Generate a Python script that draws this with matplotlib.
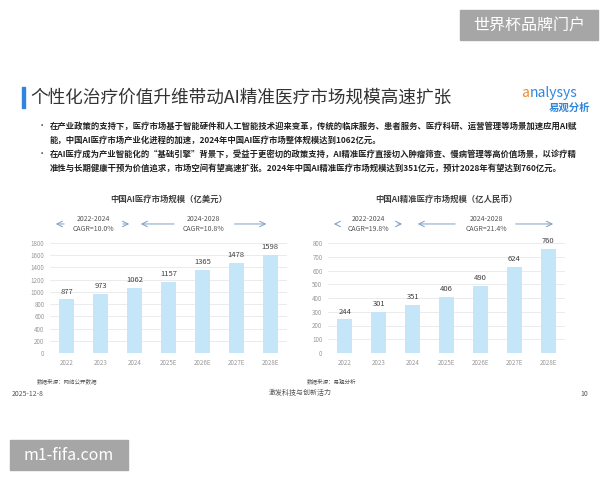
import matplotlib
matplotlib.use('Agg')
from matplotlib import pyplot as plt
from matplotlib.patches import Rectangle
import matplotlib.transforms as mtransforms

plt.rcParams['font.family'] = ['Noto Sans CJK SC', 'DejaVu Sans']

years = ['2022', '2023', '2024', '2025E', '2026E', '2027E', '2028E']
usd_values = [877, 973, 1062, 1157, 1365, 1478, 1598]
rmb_values = [244, 301, 351, 406, 490, 624, 760]
usd_cagr = ['2022-2024\nCAGR=10.0%', '2024-2028\nCAGR=10.8%']
rmb_cagr = ['2022-2024\nCAGR=19.8%', '2024-2028\nCAGR=21.4%']

title = '个性化治疗价值升维带动AI精准医疗市场规模高速扩张'
bullets = [
    ['在产业政策的支持下，医疗市场基于智能硬件和人工智能技术迎来变革，传统的临床服务、患者服务、医疗科研、运营管理等场景加速应用AI赋',
     '能，中国AI医疗市场产业化进程的加速，2024年中国AI医疗市场整体规模达到1062亿元。'],
    ['在AI医疗成为产业智能化的“基础引擎”背景下，受益于更密切的政策支持，AI精准医疗直接切入肿瘤筛查、慢病管理等高价值场景，以诊疗精',
     '准性与长期健康干预为价值追求，市场空间有望高速扩张。2024年中国AI精准医疗市场规模达到351亿元，预计2028年有望达到760亿元。'],
]

BAR = '#C4E6F8'
DARK = '#404040'
ARROW = '#7F9FC0'

fig = plt.figure(figsize=(6, 4.8), dpi=100)
fig.patch.set_facecolor('white')

def fx(px):
    return px / 600

def fy(py):
    return 1 - py / 480

# header / title
fig.patches.append(Rectangle((fx(22), fy(108)), fx(3), 21 / 480, transform=fig.transFigure,
                             color='#2E86DE', zorder=3))
fig.text(fx(30), fy(98), title, fontsize=12.7, color='#333333', va='center', ha='left')
fig.text(fx(521), fy(93), 'a', fontsize=10, color='#F08C28', style='italic', va='center', ha='left')
fig.text(fx(530), fy(93), 'nalysys', fontsize=10, color='#2E86DE', style='italic', va='center', ha='left')
fig.text(fx(590), fy(108), '易观分析', fontsize=7.5, color='#2E86DE', weight='bold', va='center', ha='right')

line_y = [[126, 140], [154, 168]]
for lines, ys in zip(bullets, line_y):
    fig.text(fx(38), fy(ys[0]), '•', fontsize=6, color=DARK, va='center')
    for s, y in zip(lines, ys):
        fig.text(fx(50), fy(y), s, fontsize=6.0, color='#222222', va='center', weight='bold')

def draw(left_px, values, ymax, step, name, cagr, arrows, source, source_x):
    ax = fig.add_axes([fx(left_px), fy(353), 237 / 600, 110 / 480])
    x = list(range(len(years)))
    ax.bar(x, values, width=0.44, color=BAR, zorder=2)
    for i, v in zip(x, values):
        ax.text(i, v + ymax * 0.035, str(v), ha='center', va='bottom', fontsize=5.5, color=DARK)
    ax.set_xlim(-0.5, len(years) - 0.5)
    ax.set_ylim(0, ymax)
    ax.set_yticks(range(0, ymax + 1, step))
    ax.set_xticks(x)
    ax.set_xticklabels(years)
    ax.tick_params(length=0, labelsize=4.5, labelcolor='#999999', pad=4)
    ax.grid(axis='y', color='#E8E8E8', linewidth=0.6, zorder=0)
    for sp in ax.spines.values():
        sp.set_visible(False)

    trans = mtransforms.blended_transform_factory(ax.transData, ax.transAxes)
    ax.text(3, 1.40, name, transform=trans, ha='center', va='center', fontsize=6,
            color=DARK, weight='bold')
    for (a0, a1, tc, b0, b1), txt in zip(arrows, cagr):
        ax.text(tc, 1.17, txt, transform=trans, ha='center', va='center', fontsize=5,
                color='#555555', linespacing=1.3)
        ax.annotate('', xy=(a0, 1.173), xytext=(a1, 1.173), xycoords=trans, textcoords=trans,
                    arrowprops=dict(arrowstyle='->', color=ARROW, lw=0.7))
        ax.annotate('', xy=(b1, 1.173), xytext=(b0, 1.173), xycoords=trans, textcoords=trans,
                    arrowprops=dict(arrowstyle='->', color=ARROW, lw=0.7))
    fig.text(fx(source_x), fy(381), source, fontsize=4, color='#555555', style='italic', va='center')
    return ax

draw(50, usd_values, 1800, 200, '中国AI医疗市场规模（亿美元）', usd_cagr,
     [(-0.41, 0.0, 0.77, 1.57, 1.92), (2.1, 3.25, 4.02, 4.87, 5.97)],
     '数据来源：网络公开数据', 37)
draw(328, rmb_values, 800, 100, '中国AI精准医疗市场规模（亿人民币）', rmb_cagr,
     [(-0.41, -0.15, 0.68, 1.48, 1.77), (2.07, 3.34, 4.17, 4.96, 6.23)],
     '数据来源：易观分析', 307)

# footer
fig.text(fx(12), fy(394), '2025-12-8', fontsize=5, color='#555555', va='center')
fig.text(fx(300), fy(393), '激发科技与创新活力', fontsize=5, color='#555555', va='center', ha='center')
fig.text(fx(588), fy(394), '10', fontsize=5, color='#555555', va='center', ha='right')

# watermarks
fig.patches.append(Rectangle((fx(460), fy(40)), fx(138), 30 / 480, transform=fig.transFigure,
                             color='#A6A6A6', zorder=3))
fig.text(fx(529), fy(25), '世界杯品牌门户', fontsize=11.5, color='white', ha='center', va='center', zorder=4)
fig.patches.append(Rectangle((fx(10), fy(470)), fx(118), 30 / 480, transform=fig.transFigure,
                             color='#A6A6A6', zorder=3))
fig.text(fx(69), fy(455), 'm1-fifa.com', fontsize=11.5, color='white', ha='center', va='center', zorder=4)

fig.savefig('out.png', dpi=100)
